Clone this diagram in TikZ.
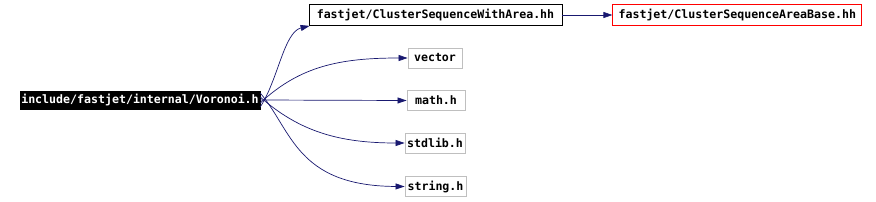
\documentclass[tikz,border=0pt]{standalone}
\usepackage{fontspec}
\setmonofont{DejaVu Sans Mono}
\usepackage{xcolor}
\usepackage{tikz}
\usetikzlibrary{arrows.meta, positioning}
\definecolor{edgeblue}{HTML}{191970}
\definecolor{leafgray}{HTML}{BFBFBF}
\tikzset{
  file/.style={draw, align=center, inner sep=1pt, minimum height=20pt, fill=white},
  root/.style={file, draw=black, fill=black, text=white, minimum height=18pt, minimum width=240pt},
  header/.style={file, draw=black, line width=0.8pt},
  base/.style={file, draw=red, line width=0.8pt},
  leaf/.style={file, draw=leafgray, line width=0.8pt},
  dep/.style={-{Triangle[length=9pt, width=6pt]}, edgeblue, line width=0.7pt},
  every node/.style={font=\fontsize{11.6}{13}\selectfont\ttfamily\bfseries}
}
\begin{document}
\begin{tikzpicture}[x=1pt, y=-1pt, node distance=50pt and 50pt]
    \useasboundingbox (0,0) rectangle (876,201);
    \node[root] (voronoi) at (140,100) {include/fastjet/internal/Voronoi.h};
    \node[header, minimum width=253pt, minimum height=21pt] (cswa) at (435.5,15) {fastjet/ClusterSequenceWithArea.hh};
    \node[base, minimum width=249pt, minimum height=21pt, right=50pt of cswa] (csab) {fastjet/ClusterSequenceAreaBase.hh};
    \node[leaf, minimum width=54pt] (vector) at (435,58) {vector};
    \node[leaf, minimum width=58pt] (math) at (436,100.5) {math.h};
    \node[leaf, minimum width=60pt] (stdlib) at (435,143) {stdlib.h};
    \node[leaf, minimum width=61pt] (string) at (435.5,186.5) {string.h};

    \draw[dep] ([yshift=-7pt]voronoi.east) .. controls (278,80) and (284,32) .. ([xshift=1pt]cswa.south west);
    \draw[dep] (cswa) -- (csab);
    \draw[dep] ([yshift=-3pt]voronoi.east) .. controls (300,66) and (340,58) .. (vector.west);
    \draw[dep] (voronoi.east) -- (math.west);
    \draw[dep] ([yshift=3pt]voronoi.east) .. controls (300,132) and (340,143) .. (stdlib.west);
    \draw[dep] ([yshift=7pt]voronoi.east) .. controls (292,130) and (296,186) .. (string.west);
\end{tikzpicture}
\end{document}
